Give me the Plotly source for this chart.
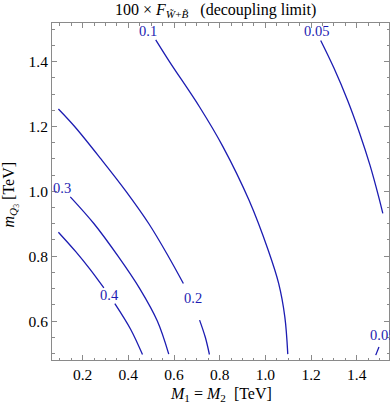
import plotly.graph_objects as go

# Contour lines (x = M1=M2 [TeV], y = m_Q3 [TeV])
c04_a_x = [0.094, 0.170, 0.232, 0.293]
c04_a_y = [0.874, 0.814, 0.760, 0.702]
c04_b_x = [0.341, 0.410, 0.462]
c04_b_y = [0.654, 0.575, 0.497]

c03_x = [0.146, 0.250, 0.355, 0.450, 0.527, 0.577]
c03_y = [0.983, 0.900, 0.800, 0.700, 0.600, 0.498]

c02_a_x = [0.094, 0.165, 0.280, 0.390, 0.490, 0.575, 0.641]
c02_a_y = [1.254, 1.200, 1.100, 1.000, 0.900, 0.800, 0.716]
c02_b_x = [0.712, 0.737, 0.755]
c02_b_y = [0.603, 0.550, 0.497]

c01_x = [0.520, 0.580, 0.712, 0.814, 0.928, 1.012, 1.058, 1.085, 1.098]
c01_y = [1.467, 1.400, 1.260, 1.138, 0.973, 0.819, 0.716, 0.613, 0.498]

c005_a_x = [1.242, 1.300, 1.360, 1.412, 1.458, 1.497, 1.514]
c005_a_y = [1.465, 1.380, 1.280, 1.180, 1.080, 0.980, 0.932]
c005_b_x = [1.483, 1.497]
c005_b_y = [0.495, 0.520]

# Contour labels
label_text = ["0.4", "0.3", "0.2", "0.1", "0.05", "0.05"]
label_x = [0.319, 0.110, 0.684, 0.487, 1.225, 1.513]
label_y = [0.680, 1.009, 0.670, 1.494, 1.493, 0.556]

x_ticks = [0.2, 0.4, 0.6, 0.8, 1.0, 1.2, 1.4]
y_ticks = [0.6, 0.8, 1.0, 1.2, 1.4]

BLUE = "rgb(28,28,178)"
SERIF = "'Liberation Serif', 'Times New Roman', serif"

fig = go.Figure()
for xs, ys in [(c04_a_x, c04_a_y), (c04_b_x, c04_b_y), (c03_x, c03_y),
               (c02_a_x, c02_a_y), (c02_b_x, c02_b_y), (c01_x, c01_y),
               (c005_a_x, c005_a_y), (c005_b_x, c005_b_y)]:
    fig.add_trace(go.Scatter(x=xs, y=ys, mode="lines",
                             line=dict(color=BLUE, width=1.3, shape="spline", smoothing=1),
                             hoverinfo="skip", showlegend=False))

for t, x, y in zip(label_text, label_x, label_y):
    fig.add_annotation(x=x, y=y, xref="x", yref="y", text=t, showarrow=False,
                       font=dict(family=SERIF, size=14.5, color=BLUE),
                       xanchor="center", yanchor="middle")

axis_common = dict(showgrid=False, zeroline=False, showline=True, mirror="ticks",
                   linecolor="#8a8a8a", linewidth=1, ticks="inside", ticklen=5,
                   tickcolor="#8a8a8a", tickwidth=1, tickformat=".1f",
                   tickfont=dict(family=SERIF, size=15.5, color="black"),
                   minor=dict(ticks="inside", ticklen=2.5, dtick=0.05,
                              tickcolor="#8a8a8a", tickwidth=1))

fig.update_xaxes(range=[0.066, 1.541], tickvals=x_ticks, **axis_common)
fig.update_yaxes(range=[0.480, 1.519], tickvals=y_ticks, **axis_common)

# Title
fig.add_annotation(xref="paper", yref="paper", x=0.5, y=1, yshift=13, xshift=-5,
                   text="100 × <i>F</i><sub><i>W̃</i>+<i>B̃</i></sub>\u00a0\u00a0 (decoupling limit)",
                   showarrow=False, xanchor="center", yanchor="middle",
                   font=dict(family=SERIF, size=16, color="black"))
# x-axis title
fig.add_annotation(xref="paper", yref="paper", x=0.5, y=0, yshift=-34,
                   text="<i>M</i><sub>1</sub> = <i>M</i><sub>2</sub>\u00a0 [TeV]",
                   showarrow=False, xanchor="center", yanchor="middle",
                   font=dict(family=SERIF, size=16, color="black"))
# y-axis title
fig.add_annotation(xref="paper", yref="paper", x=0, y=0.5, xshift=-42, yshift=-3,
                   text="<i>m</i><sub><i>Q</i><sub>3</sub></sub> [TeV]",
                   textangle=-90, showarrow=False, xanchor="center", yanchor="middle",
                   font=dict(family=SERIF, size=16, color="black"))

fig.update_layout(width=390, height=405,
                  margin=dict(l=52, r=1, t=23, b=45),
                  plot_bgcolor="white", paper_bgcolor="white",
                  showlegend=False)

fig.write_html("out.html", config={"displayModeBar": False},
               post_script="document.body.style.margin='0';document.body.style.padding='0';")
